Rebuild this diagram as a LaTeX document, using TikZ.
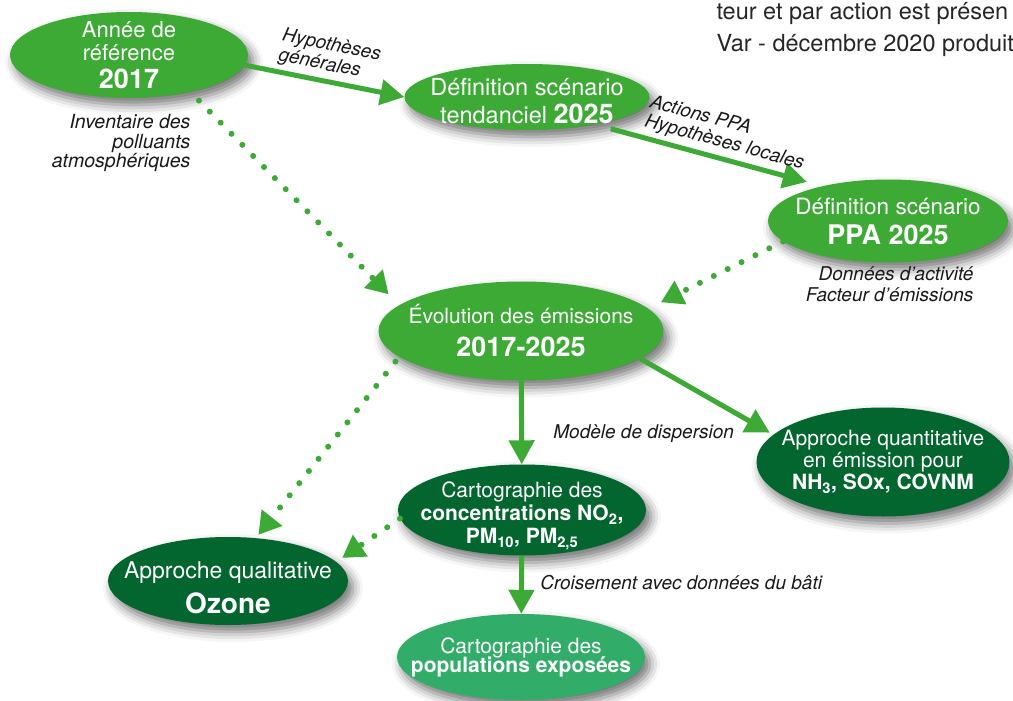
\documentclass[tikz,border=0pt]{standalone}
\usepackage{fontspec}
\setmainfont{TeX Gyre Heros}
\usetikzlibrary{shapes.geometric,arrows.meta,positioning,shadows.blur}
\definecolor{midgreen}{HTML}{3DAA35}
\definecolor{darkgreen}{HTML}{03662F}
\definecolor{tealgreen}{HTML}{31AD69}
\newcommand{\bignum}[1]{{\bfseries\fontsize{27}{28}\selectfont #1}}
\begin{document}
\begin{tikzpicture}
      [x=1pt, y=-1pt,
       bubble/.style={ellipse, inner xsep=-30pt, inner ysep=-12pt, text=white, align=center,
         font=\fontsize{22}{23}\selectfont,
         blur shadow={shadow xshift=5pt, shadow yshift=-7pt, shadow blur radius=10pt, shadow opacity=55}},
       greenbubble/.style={bubble, fill=midgreen},
       darkbubble/.style={bubble, fill=darkgreen, font=\fontsize{21}{22}\selectfont},
       tealbubble/.style={bubble, fill=tealgreen, font=\fontsize{21}{22}\selectfont},
       annot/.style={font=\fontsize{19}{20}\selectfont\itshape, text=black!90},
       flow/.style={draw=midgreen, line width=5pt, -{Triangle[length=24pt, width=25pt]}},
       hint/.style={draw=midgreen, line width=6pt, line cap=round, dash pattern=on 0pt off 15.5pt,
         -{Triangle[length=22pt, width=25pt]}}]
      \useasboundingbox (0, 0) rectangle (1013, 701);
      \node(1)[greenbubble, minimum width=238pt, minimum height=86pt] at (129, 55)
        {Année de\\référence\\[5pt]\bignum{2017}};
      \node(2)[greenbubble, minimum width=245pt, minimum height=66pt, font=\fontsize{23.5}{24}\selectfont] at (527, 97)
        {\rule{0pt}{26pt}Définition scénario\\[4pt]tendanciel \bignum{2025}};
      \node(3)[greenbubble, minimum width=240pt, minimum height=83pt, font=\fontsize{22.5}{23}\selectfont] at (888, 221)
        {Définition scénario\\[7pt]\bignum{PPA 2025}};
      \node(4)[greenbubble, minimum width=285pt, minimum height=99pt, font=\fontsize{21}{22}\selectfont] at (521, 331)
        {Évolution des émissions\\[11pt]{\bfseries\fontsize{27}{28}\selectfont 2017-2025}};
      \node(5)[darkbubble, minimum width=253pt, minimum height=109pt] at (883, 462)
        {Approche quantitative\\en émission pour\\{\bfseries NH\textsubscript{3}, SOx, COVNM}};
      \node(6)[darkbubble, minimum width=248pt, minimum height=91pt, font=\fontsize{21}{23}\selectfont] at (522, 510)
        {\rule{0pt}{28pt}Cartographie des\\{\bfseries concentrations NO\textsubscript{2},}\\{\bfseries PM\textsubscript{10}, PM\textsubscript{2,5}}};
      \node(7)[darkbubble, minimum width=240pt, minimum height=88pt, font=\fontsize{23}{24}\selectfont] at (228, 581)
        {\rule{0pt}{30pt}Approche qualitative\\[8pt]{\bfseries\fontsize{28}{29}\selectfont Ozone}};
      \node(8)[tealbubble, minimum width=248pt, minimum height=86pt] at (521, 657)
        {Cartographie des\\[-3pt]{\bfseries populations exposées}};
      \node(9)[annot, anchor=east, align=right, font=\fontsize{19.5}{19.5}\selectfont\itshape] at (194, 143)
        {Inventaire des\\polluants\\atmosphériques};
      \node(10)[annot, anchor=east, align=right, font=\fontsize{19}{21}\selectfont\itshape] at (977, 284)
        {Données d’activité\\Facteur d’émissions};
      \node(11)[anchor=west, align=left, text=black!85, font=\fontsize{23.5}{32}\selectfont] at (713, 29)
        {teur et par action est présen\\Var - décembre 2020 produit};
      \draw[flow](1.-5) --node[annot, sloped, above=1pt, align=left, pos=0.5]{Hypothèses\\générales} (2.180);
      \draw[flow, shorten <=16pt, shorten >=16pt](2.-22) --node[annot, sloped, above=1pt, align=left, pos=0.55]{Actions PPA\\Hypothèses locales} (3.152);
      \draw[hint, shorten <=12pt, shorten >=15pt](1.-31) -- (4.168);
      \draw[hint, shorten >=14pt](3.191) -- (4.10);
      \draw[flow](4) --node[annot, right=26pt, pos=0.63]{Modèle de dispersion} (6);
      \draw[flow, shorten >=4pt](4.-13) -- (5.166);
      \draw[hint, shorten <=6pt, shorten >=4pt](4.192) -- (7.57);
      \draw[hint, shorten >=7pt](6.184) -- (7.10);
      \draw[flow](6) --node[annot, right=13pt, pos=0.47]{Croisement avec données du bâti} (8);
  \end{tikzpicture}
\end{document}
